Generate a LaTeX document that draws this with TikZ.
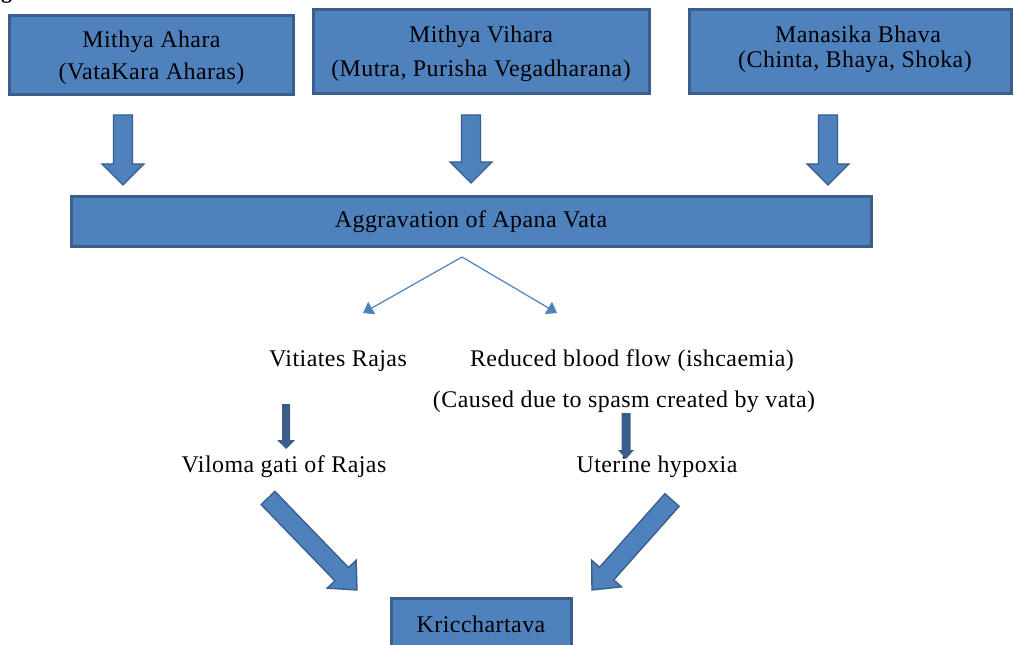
\documentclass[tikz,border=0pt]{standalone}
\usepackage{fontspec}
\setmainfont{Liberation Serif}[LetterSpace=2]
\usetikzlibrary{arrows.meta,calc}
\definecolor{boxfill}{HTML}{4F81BD}
\definecolor{boxline}{HTML}{3A5F8E}
\definecolor{darkarr}{HTML}{3B5D8C}
\tikzset{
  box/.style={draw=boxline, line width=2.6bp, fill=boxfill, inner sep=0, rectangle},
  txt/.style={font=\fontsize{24}{24}\selectfont, inner sep=0, anchor=base, text=black},
  barrow/.style={draw=boxline, line width=1.4bp, fill=boxfill, line join=miter},
  thinarr/.style={draw=boxfill, line width=1.2bp, -{Triangle[length=10bp,width=14bp]}},
  smallarr/.style={fill=darkarr, draw=none},
}
% style, tail, tip, shaft half width, head half width, head length
\newcommand\blockarr[6]{%
  \path ($(#3)!#6!(#2)$) coordinate (hb);
  \draw[#1] ($(#2)!#4!90:(#3)$) -- ($(hb)!#4!90:(#3)$) -- ($(hb)!#5!90:(#3)$) -- (#3)
    -- ($(hb)!#5!-90:(#3)$) -- ($(hb)!#4!-90:(#3)$) -- ($(#2)!#4!-90:(#3)$) -- cycle;}
\begin{document}
\begin{tikzpicture}[x=1bp,y=-1bp]
\useasboundingbox (0,0) rectangle (1014,645);
\clip (0,0) rectangle (1014,645);
\fill[white] (0,0) rectangle (1014,645);

\node[font=\bfseries\fontsize{22}{22}\selectfont, anchor=base west, inner sep=0] (figlabel) at (1,-1) {g};

% top boxes
\node[box, minimum width=284.3bp, minimum height=79.3bp] (b1) at (151.5,55) {};
\node[box, minimum width=336.3bp, minimum height=84.3bp] (b2) at (481.5,51.5) {};
\node[box, minimum width=322.3bp, minimum height=84.3bp] (b3) at (850.5,51.5) {};
\node[txt] (t1a) at (151.5,48) {Mithya Ahara};
\node[txt] (t1b) at (151.5,80) {(VataKara Aharas)};
\node[txt] (t2a) at (481,43) {Mithya Vihara};
\node[txt] (t2b) at (481,77) {(Mutra, Purisha Vegadharana)};
\node[txt] (t3a) at (858,43) {Manasika Bhava};
\node[txt] (t3b) at (855,68) {(Chinta, Bhaya, Shoka)};

% main box
\node[box, minimum width=800.3bp, minimum height=50.3bp] (agg) at (471.5,221.5) {};
\node[txt] (aggt) at (471,228) {Aggravation of Apana Vata};

% block arrows down
\coordinate (a1t) at (123,115); \coordinate (a1p) at (123,185);
\coordinate (a2t) at (471,115); \coordinate (a2p) at (471,183);
\coordinate (a3t) at (828,115); \coordinate (a3p) at (828,185);
\blockarr{barrow}{a1t}{a1p}{9.5bp}{21bp}{21bp}
\blockarr{barrow}{a2t}{a2p}{9.5bp}{21bp}{21bp}
\blockarr{barrow}{a3t}{a3p}{9.5bp}{21bp}{21bp}

% thin split arrows
\coordinate (apex) at (462,257);
\coordinate (lt) at (363,313);
\coordinate (rt) at (557,313);
\draw[thinarr] (apex) -- (lt);
\draw[thinarr] (apex) -- (rt);

% middle texts
\node[txt] (vit) at (338,366) {Vitiates Rajas};
\node[txt] (red) at (632,366) {Reduced blood flow (ishcaemia)};
\node[txt] (cau) at (624,407) {(Caused due to spasm created by vata)};
\node[txt] (vil) at (284,472) {Viloma gati of Rajas};
\node[txt] (ute) at (657,472) {Uterine hypoxia};

% small dark arrows
\coordinate (s1t) at (286,404); \coordinate (s1p) at (286,449);
\coordinate (s2t) at (626,413); \coordinate (s2p) at (626,459);
\blockarr{smallarr}{s1t}{s1p}{4bp}{9bp}{9bp}
\blockarr{smallarr}{s2t}{s2p}{4.5bp}{8bp}{9bp}

% diagonal block arrows
\coordinate (d1t) at (268,498); \coordinate (d1p) at (357,590);
\coordinate (d2t) at (672,500); \coordinate (d2p) at (592,590);
\blockarr{barrow}{d1t}{d1p}{9.5bp}{20bp}{22bp}
\blockarr{barrow}{d2t}{d2p}{9.5bp}{20bp}{22bp}

% bottom box
\node[box, minimum width=180.3bp, minimum height=50.3bp] (kr) at (481.5,623.5) {};
\node[txt] (krt) at (481,632) {Kricchartava};
\end{tikzpicture}
\end{document}
